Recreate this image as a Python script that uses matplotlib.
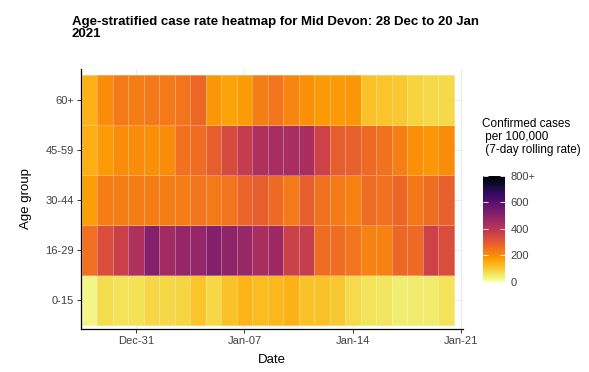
import numpy as np
import pandas as pd
import matplotlib
matplotlib.use('Agg')
import matplotlib.pyplot as plt
import matplotlib.dates as mdates

plt.rcParams['font.family'] = ['Liberation Sans', 'DejaVu Sans']

# rows bottom -> top
age_groups = ['0-15', '16-29', '30-44', '45-59', '60+']
dates = pd.date_range('2020-12-28', '2021-01-20', freq='D')

# 7-day rolling case rate per 100,000, one value per day (Dec 28 .. Jan 20)
rate_0_15 = [25, 70, 60, 65, 80, 80, 82, 110, 80, 115, 135, 122,
             130, 140, 115, 115, 105, 72, 62, 55, 42, 45, 45, 60]
rate_16_29 = [255, 325, 365, 425, 510, 450, 475, 475, 510, 490, 470, 440,
              460, 365, 375, 260, 260, 245, 220, 220, 270, 265, 360, 330]
rate_30_44 = [170, 230, 230, 230, 230, 230, 230, 245, 235, 245, 275, 290,
              265, 235, 290, 250, 235, 220, 260, 250, 270, 240, 260, 285]
rate_45_59 = [145, 175, 200, 200, 195, 200, 250, 260, 290, 335, 380, 430,
              440, 440, 435, 360, 290, 285, 265, 250, 225, 195, 185, 200]
rate_60_plus = [140, 200, 235, 230, 235, 235, 245, 270, 185, 165, 175, 230,
                245, 215, 195, 180, 180, 185, 115, 110, 105, 85, 78, 78]

xtick_dates = ['2020-12-31', '2021-01-07', '2021-01-14', '2021-01-21']
cbar_ticks = [0, 200, 400, 600, 800]
cbar_labels = ['0', '200', '400', '600', '800+']

rates = np.array([rate_0_15, rate_16_29, rate_30_44, rate_45_59, rate_60_plus])

fig = plt.figure(figsize=(5.89, 3.72), dpi=100)
ax = fig.add_axes([81 / 589, 1 - 329 / 372, 382 / 589, 260 / 372])

day_nums = mdates.date2num(dates)
x_edges = np.append(day_nums - 0.5, day_nums[-1] + 0.5)
y_edges = np.arange(len(age_groups) + 1) - 0.5

mesh = ax.pcolormesh(x_edges, y_edges, rates, cmap='inferno_r', vmin=0, vmax=800,
                     edgecolors=(1, 1, 1, 0.3), linewidth=0.6)

ax.set_xlim(day_nums[0] - 0.55, day_nums[0] + 24.1)
ax.set_ylim(-0.58, 4.62)

ax.set_xticks(mdates.date2num(pd.to_datetime(xtick_dates)))
ax.xaxis.set_major_formatter(mdates.DateFormatter('%b-%d'))
ax.set_yticks(range(len(age_groups)))
ax.set_yticklabels(age_groups)

ax.grid(True, color='#EBEBEB', linewidth=0.8)
ax.set_axisbelow(True)
for side in ['top', 'right']:
    ax.spines[side].set_visible(False)
for side in ['left', 'bottom']:
    ax.spines[side].set_color('black')
    ax.spines[side].set_linewidth(0.9)
ax.tick_params(length=3, width=0.7, color='#333333', labelsize=8, labelcolor='#404040', pad=2)

ax.set_xlabel('Date', fontsize=9.5, labelpad=6)
ax.set_ylabel('Age group', fontsize=9.5, labelpad=10)

fig.text(72 / 589, 1 - 16 / 372,
         'Age-stratified case rate heatmap for Mid Devon: 28 Dec to 20 Jan\n2021',
         fontsize=9.5, fontweight='bold', va='top', ha='left', linespacing=1.0)

# colour legend
fig.text(482 / 589, 1 - 118 / 372, 'Confirmed cases\n per 100,000\n (7-day rolling rate)',
         fontsize=8.5, va='top', ha='left', linespacing=1.1)
cax = fig.add_axes([483 / 589, 1 - 281.7 / 372, 22 / 589, 106 / 372])
cb = fig.colorbar(mesh, cax=cax)
cb.set_ticks(cbar_ticks)
cb.set_ticklabels(cbar_labels)
cb.outline.set_visible(False)
cax.tick_params(direction='in', color='white', length=3.5, width=0.6, left=True, right=True,
                labelsize=8, labelcolor='#404040', pad=4)

fig.savefig('out.png', dpi=100)
